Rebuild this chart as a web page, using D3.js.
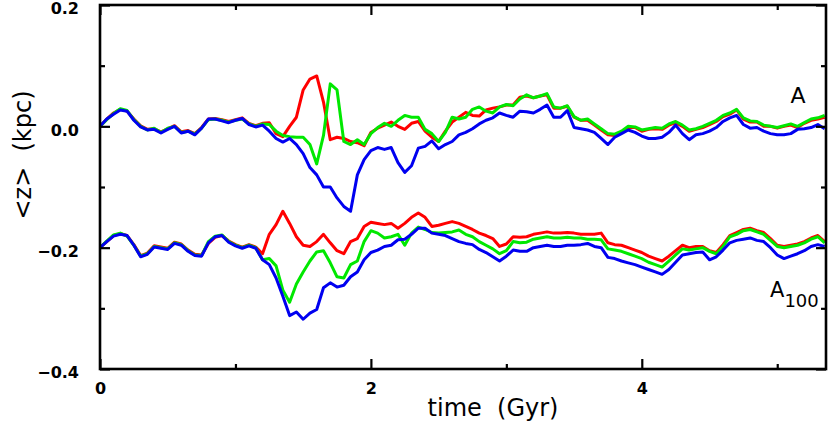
<!DOCTYPE html>
<html>
<head>
<meta charset="utf-8">
<script src="https://cdn.jsdelivr.net/npm/d3@7"></script>
<style>
  body { margin: 0; background: #fff; }
  svg { display: block; }
  text { white-space: pre; }
</style>
</head>
<body>
<div id="chart"></div>
<script>
// time grid, Gyr (step 0.05)
var dt = 0.05;
var nPts = 108;

// upper group (A), kpc
var aRed = [0.000,0.012,0.022,0.028,0.025,0.012,0.001,-0.005,-0.004,-0.009,-0.004,0.001,-0.009,-0.007,-0.012,-0.002,0.012,0.013,0.011,0.008,0.011,0.014,0.005,0.001,0.005,0.006,-0.012,
  -0.017,0.000,0.015,0.060,0.078,0.083,0.040,-0.022,-0.018,-0.020,-0.025,-0.027,-0.032,-0.010,-0.003,0.002,0.007,0.000,-0.005,0.005,0.008,-0.008,-0.018,-0.025,-0.008,0.007,0.015,0.023,0.018,
  0.017,0.027,0.030,0.032,0.035,0.035,0.048,0.050,0.047,0.050,0.052,0.030,0.030,0.033,0.015,0.010,0.010,0.002,-0.006,-0.014,-0.015,-0.010,-0.002,-0.002,-0.008,-0.005,-0.004,-0.005,0.002,0.006,
  0.000,-0.008,-0.005,-0.002,0.003,0.008,0.016,0.020,0.027,0.012,0.007,0.007,0.000,0.000,-0.003,0.000,0.002,-0.002,0.005,0.010,0.012,0.015];
var aGreen = [0.000,0.011,0.021,0.029,0.026,0.011,0.000,-0.006,-0.003,-0.010,-0.003,0.000,-0.010,-0.008,-0.013,-0.003,0.011,0.012,0.010,0.007,0.010,0.012,0.004,0.000,0.004,0.003,-0.008,
  -0.015,-0.017,-0.018,-0.018,-0.030,-0.062,-0.015,0.070,0.060,-0.025,-0.030,-0.022,-0.030,-0.012,-0.002,0.005,0.000,0.010,0.018,0.015,0.015,-0.005,-0.012,-0.025,-0.010,0.015,0.012,0.015,0.028,
  0.032,0.025,0.022,0.032,0.036,0.034,0.045,0.052,0.047,0.050,0.054,0.032,0.030,0.034,0.016,0.010,0.012,0.004,-0.004,-0.012,-0.013,-0.008,0.000,-0.001,-0.006,-0.004,-0.002,-0.003,0.004,0.008,
  0.002,-0.006,-0.004,0.000,0.005,0.010,0.018,0.022,0.028,0.014,0.009,0.008,0.002,0.000,-0.002,0.001,0.004,0.000,0.006,0.012,0.014,0.018];
var aBlue = [0.000,0.012,0.020,0.027,0.025,0.010,-0.001,-0.006,-0.005,-0.011,-0.005,0.000,-0.011,-0.008,-0.014,-0.003,0.012,0.012,0.009,0.006,0.010,0.013,0.003,-0.001,0.002,-0.008,-0.020,
  -0.026,-0.020,-0.030,-0.045,-0.068,-0.080,-0.100,-0.100,-0.118,-0.132,-0.140,-0.080,-0.055,-0.040,-0.035,-0.038,-0.035,-0.060,-0.076,-0.065,-0.036,-0.033,-0.024,-0.037,-0.030,-0.025,-0.014,
  -0.010,-0.004,0.004,0.010,0.014,0.022,0.018,0.015,0.025,0.024,0.022,0.028,0.035,0.015,0.015,0.026,-0.002,-0.004,-0.006,-0.010,-0.020,-0.030,-0.018,-0.012,-0.006,-0.010,-0.016,-0.020,-0.020,
  -0.018,-0.010,0.002,-0.012,-0.022,-0.014,-0.012,-0.008,-0.002,0.008,0.014,0.018,0.003,-0.003,-0.002,-0.008,-0.012,-0.014,-0.014,-0.012,-0.005,-0.004,-0.002,0.003,-0.004];

// lower group (A100), kpc
var bRed = [-0.200,-0.190,-0.180,-0.177,-0.180,-0.195,-0.213,-0.209,-0.197,-0.199,-0.201,-0.191,-0.194,-0.204,-0.211,-0.212,-0.193,-0.183,-0.180,-0.189,-0.195,-0.199,-0.195,-0.199,-0.210,
  -0.178,-0.162,-0.140,-0.160,-0.182,-0.196,-0.198,-0.190,-0.178,-0.192,-0.205,-0.210,-0.190,-0.185,-0.165,-0.158,-0.160,-0.162,-0.160,-0.168,-0.160,-0.150,-0.143,-0.150,-0.165,-0.163,-0.160,
  -0.157,-0.160,-0.165,-0.170,-0.176,-0.180,-0.185,-0.198,-0.194,-0.182,-0.183,-0.182,-0.178,-0.176,-0.174,-0.176,-0.176,-0.175,-0.176,-0.178,-0.178,-0.178,-0.176,-0.192,-0.195,-0.196,-0.200,
  -0.204,-0.208,-0.214,-0.218,-0.222,-0.214,-0.205,-0.196,-0.200,-0.198,-0.198,-0.205,-0.208,-0.195,-0.180,-0.175,-0.170,-0.168,-0.172,-0.175,-0.185,-0.196,-0.198,-0.196,-0.194,-0.190,-0.184,-0.180,-0.190];
var bGreen = [-0.200,-0.189,-0.179,-0.176,-0.181,-0.196,-0.214,-0.210,-0.198,-0.200,-0.202,-0.192,-0.195,-0.205,-0.212,-0.213,-0.190,-0.181,-0.179,-0.190,-0.196,-0.200,-0.196,-0.200,-0.220,
  -0.218,-0.230,-0.270,-0.290,-0.260,-0.240,-0.222,-0.207,-0.205,-0.225,-0.248,-0.250,-0.228,-0.222,-0.190,-0.172,-0.176,-0.184,-0.182,-0.178,-0.196,-0.176,-0.166,-0.170,-0.175,-0.176,-0.175,
  -0.174,-0.171,-0.178,-0.182,-0.190,-0.196,-0.202,-0.210,-0.205,-0.190,-0.192,-0.191,-0.186,-0.184,-0.182,-0.184,-0.184,-0.183,-0.184,-0.184,-0.186,-0.186,-0.187,-0.202,-0.204,-0.206,-0.210,
  -0.214,-0.218,-0.224,-0.228,-0.232,-0.222,-0.212,-0.202,-0.204,-0.202,-0.200,-0.206,-0.210,-0.198,-0.182,-0.178,-0.172,-0.170,-0.174,-0.178,-0.188,-0.198,-0.200,-0.198,-0.196,-0.192,-0.186,-0.182,-0.192];
var bBlue = [-0.200,-0.190,-0.181,-0.178,-0.180,-0.196,-0.215,-0.211,-0.199,-0.201,-0.203,-0.193,-0.196,-0.206,-0.213,-0.214,-0.192,-0.182,-0.180,-0.191,-0.197,-0.201,-0.197,-0.201,-0.220,
  -0.228,-0.250,-0.280,-0.312,-0.306,-0.318,-0.308,-0.302,-0.266,-0.258,-0.265,-0.262,-0.248,-0.240,-0.220,-0.208,-0.204,-0.198,-0.196,-0.187,-0.186,-0.178,-0.168,-0.168,-0.176,-0.178,-0.180,
  -0.185,-0.190,-0.193,-0.195,-0.203,-0.208,-0.215,-0.222,-0.214,-0.204,-0.206,-0.206,-0.200,-0.198,-0.196,-0.198,-0.198,-0.196,-0.196,-0.195,-0.193,-0.198,-0.200,-0.216,-0.218,-0.222,-0.225,
  -0.228,-0.232,-0.236,-0.240,-0.244,-0.236,-0.224,-0.212,-0.210,-0.208,-0.207,-0.220,-0.215,-0.204,-0.192,-0.188,-0.186,-0.184,-0.188,-0.190,-0.200,-0.212,-0.218,-0.214,-0.210,-0.205,-0.198,-0.195,-0.198];

var xMajor = [0, 2, 4];
var xMinor = [1, 3, 5];
var yMajor = [0.2, 0.0, -0.2, -0.4];
var yMinor = [0.1, -0.1, -0.3];
var series = [
  { vals: aRed, color: "#ff0000" }, { vals: aGreen, color: "#00e800" }, { vals: aBlue, color: "#0000f0" },
  { vals: bRed, color: "#ff0000" }, { vals: bGreen, color: "#00e800" }, { vals: bBlue, color: "#0000f0" }
];

var W = 830, H = 423;
var margin = { top: 5, right: 4, bottom: 54, left: 100 };
var font = "'DejaVu Sans', Verdana, sans-serif";

var svg = d3.select("#chart").append("svg").attr("width", W).attr("height", H);

var x = d3.scaleLinear().domain([0, 5.36]).range([margin.left, W - margin.right]);
var y = d3.scaleLinear().domain([-0.4, 0.2]).range([H - margin.bottom, margin.top]);

var line = d3.line()
  .x(function(d, i) { return x(i * dt); })
  .y(function(d) { return y(d); });

var plot = svg.append("g");
series.forEach(function(s) {
  plot.append("path")
    .datum(s.vals.slice(0, nPts))
    .attr("d", line)
    .attr("fill", "none")
    .attr("stroke", s.color)
    .attr("stroke-width", 3)
    .attr("stroke-linejoin", "round");
});

function fmtY(d) { return d3.format(".1f")(d).replace("-", "\u2212"); }

// axes: major ticks 10px, minor 5px, all inward
function styleAxis(g) {
  g.select(".domain").remove();
  g.selectAll(".tick line").attr("stroke", "#000").attr("stroke-width", 2.2);
  g.selectAll(".tick text").attr("font-family", font).attr("font-weight", "bold")
    .attr("font-size", 16).attr("fill", "#000");
}
svg.append("g").attr("transform", "translate(0," + y(-0.4) + ")")
  .call(d3.axisBottom(x).tickValues(xMajor).tickSize(-10).tickPadding(14).tickFormat(d3.format("d")))
  .call(styleAxis);
svg.append("g").attr("transform", "translate(0," + y(-0.4) + ")")
  .call(d3.axisBottom(x).tickValues(xMinor).tickSize(-5).tickFormat(""))
  .call(styleAxis);
svg.append("g").attr("transform", "translate(0," + y(0.2) + ")")
  .call(d3.axisTop(x).tickValues(xMajor).tickSize(-10).tickFormat(""))
  .call(styleAxis);
svg.append("g").attr("transform", "translate(0," + y(0.2) + ")")
  .call(d3.axisTop(x).tickValues(xMinor).tickSize(-5).tickFormat(""))
  .call(styleAxis);
svg.append("g").attr("transform", "translate(" + x(0) + ",0)")
  .call(d3.axisLeft(y).tickValues(yMajor).tickSize(-10).tickPadding(21).tickFormat(fmtY))
  .call(styleAxis)
  .selectAll(".tick text").attr("dy", "0.55em");
svg.append("g").attr("transform", "translate(" + x(0) + ",0)")
  .call(d3.axisLeft(y).tickValues(yMinor).tickSize(-5).tickFormat(""))
  .call(styleAxis);
svg.append("g").attr("transform", "translate(" + x(5.36) + ",0)")
  .call(d3.axisRight(y).tickValues(yMajor).tickSize(-10).tickFormat(""))
  .call(styleAxis);
svg.append("g").attr("transform", "translate(" + x(5.36) + ",0)")
  .call(d3.axisRight(y).tickValues(yMinor).tickSize(-5).tickFormat(""))
  .call(styleAxis);

// frame
svg.append("rect")
  .attr("x", x(0)).attr("y", y(0.2))
  .attr("width", x(5.36) - x(0)).attr("height", y(-0.4) - y(0.2))
  .attr("fill", "none").attr("stroke", "#000").attr("stroke-width", 2.6);

// titles
svg.append("text").attr("x", 493).attr("y", 416).attr("text-anchor", "middle")
  .attr("font-family", font).attr("font-size", 24).text("time  (Gyr)");
svg.append("text").attr("transform", "translate(31,155) rotate(-90)").attr("text-anchor", "middle")
  .attr("font-family", font).attr("font-size", 24).text("<z>  (kpc)");

svg.append("text").attr("x", 798).attr("y", 103).attr("text-anchor", "middle")
  .attr("font-family", font).attr("font-size", 22).text("A");
var lab = svg.append("text").attr("x", 770).attr("y", 297)
  .attr("font-family", font).attr("font-size", 21);
lab.append("tspan").text("A");
lab.append("tspan").attr("dy", 10).attr("font-size", 18).text("100");
</script>
</body>
</html>
